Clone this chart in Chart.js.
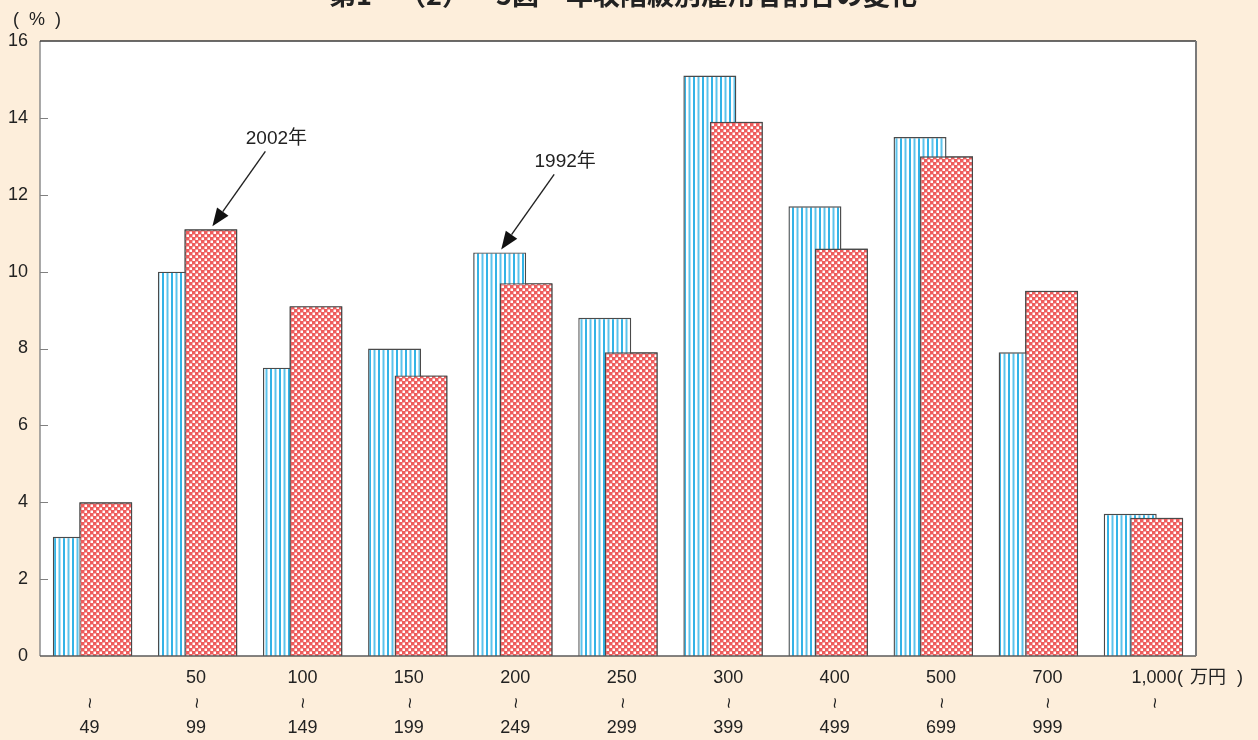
<!DOCTYPE html>
<html lang="ja">
<head>
<meta charset="utf-8">
<title>年収階級別雇用者割合の変化</title>
<script src="https://cdn.jsdelivr.net/npm/chart.js@4/dist/chart.umd.min.js"></script>
<style>
  html, body { margin: 0; padding: 0; background: #FDEEDB; }
  #wrap { width: 1258px; height: 740px; position: relative; }
</style>
</head>
<body>
<div id="wrap"><canvas id="chart" width="1258" height="740"></canvas></div>
<script>
// Income brackets (万円): lower and upper bound of each class
const lowerBounds = ['', '50', '100', '150', '200', '250', '300', '400', '500', '700', '1,000'];
const upperBounds = ['49', '99', '149', '199', '249', '299', '399', '499', '699', '999', ''];

// Share of employees in each bracket (%)
const share1992 = [3.1, 10.0, 7.5, 8.0, 10.5, 8.8, 15.1, 11.7, 13.5, 7.9, 3.7];
const share2002 = [4.0, 11.1, 9.1, 7.3, 9.7, 7.9, 13.9, 10.6, 13.0, 9.5, 3.6];

// Value axis
const yMin = 0;
const yMax = 16;
const yStep = 2;

const seriesNames = ['1992年', '2002年'];
const titleText = '第1－（2）－5図　年収階級別雇用者割合の変化';

const categories = lowerBounds.map((lo, i) => lo + '～' + upperBounds[i]);

const FONT_LATIN = '"Liberation Sans", Arial, "Noto Sans CJK JP", sans-serif';
const FONT_CJK = '"Liberation Sans", "Noto Sans CJK JP", sans-serif';

// Vertical blue hatching for 1992
function stripePattern() {
  const c = document.createElement('canvas');
  c.width = 9; c.height = 4;
  const g = c.getContext('2d');
  g.fillStyle = '#ffffff';
  g.fillRect(0, 0, 9, 4);
  g.fillStyle = '#33B3E6';
  g.fillRect(0, 0, 2, 4);
  g.fillStyle = '#5CC3EC';
  g.fillRect(4.5, 0, 2, 4);
  return g.createPattern(c, 'repeat');
}

// Red checker for 2002
function checkerPattern() {
  const c = document.createElement('canvas');
  c.width = 6; c.height = 6;
  const g = c.getContext('2d');
  g.fillStyle = '#EE5C5C';
  g.fillRect(0, 0, 6, 6);
  g.fillStyle = '#ffffff';
  g.fillRect(0.5, 0.5, 2.5, 2.5);
  g.fillRect(3.5, 3.5, 2.5, 2.5);
  return g.createPattern(c, 'repeat');
}

// White plot area, frame and inner tick marks
const framePlugin = {
  id: 'frame',
  beforeDatasetsDraw(chart) {
    const { ctx, chartArea: a } = chart;
    ctx.save();
    ctx.fillStyle = '#ffffff';
    ctx.fillRect(a.left, a.top, a.right - a.left, a.bottom - a.top);
    ctx.restore();
  },
  afterDatasetsDraw(chart) {
    // 2002 bars overlap the 1992 bars
    chart.getDatasetMeta(1).controller.draw();

    const { ctx, chartArea: a, scales } = chart;
    ctx.save();
    ctx.lineWidth = 1.5;
    ctx.strokeStyle = '#8c8c8c';
    ctx.beginPath();
    ctx.moveTo(a.left, a.top); ctx.lineTo(a.left, a.bottom);
    ctx.stroke();
    ctx.strokeStyle = '#3a3a3a';
    ctx.beginPath();
    ctx.moveTo(a.left, a.top); ctx.lineTo(a.right, a.top);
    ctx.stroke();
    ctx.strokeStyle = '#5a5a5a';
    ctx.beginPath();
    ctx.moveTo(a.left, a.bottom); ctx.lineTo(a.right, a.bottom);
    ctx.stroke();
    ctx.lineWidth = 2;
    ctx.strokeStyle = '#7a7a7a';
    ctx.beginPath();
    ctx.moveTo(a.right, a.top); ctx.lineTo(a.right, a.bottom);
    ctx.stroke();

    ctx.lineWidth = 1;
    ctx.strokeStyle = '#808080';
    scales.y.ticks.forEach(t => {
      if (t.value === yMin || t.value === yMax) return;
      const y = Math.round(scales.y.getPixelForValue(t.value)) + 0.5;
      ctx.beginPath();
      ctx.moveTo(a.left, y); ctx.lineTo(a.left + 8, y);
      ctx.stroke();
    });
    ctx.restore();
  }
};

// Title, unit labels, bracket labels and callouts
const textPlugin = {
  id: 'texts',
  afterDraw(chart) {
    const { ctx, chartArea: a, scales } = chart;
    ctx.save();
    ctx.fillStyle = '#222222';

    ctx.font = 'bold 27px "Noto Sans CJK JP", sans-serif';
    ctx.textAlign = 'center';
    ctx.textBaseline = 'alphabetic';
    ctx.fillText(titleText, 623, 5);

    // "( % )" unit above the value axis
    ctx.font = '18px ' + FONT_CJK;
    ctx.textBaseline = 'middle';
    ctx.textAlign = 'center';
    ctx.fillText('(', 16, 20);
    ctx.fillText('%', 37, 20);
    ctx.fillText(')', 58, 20);

    const x = scales.x;
    const spread = 1.35;
    categories.forEach((_, i) => {
      const cx = x.getPixelForTick(i) + i * spread - 3;
      ctx.font = '18px ' + FONT_LATIN;
      ctx.textAlign = 'center';
      if (lowerBounds[i]) ctx.fillText(lowerBounds[i], cx, 678);
      // range mark: a tilde turned upright
      ctx.save();
      ctx.translate(cx, 703);
      ctx.rotate(Math.PI / 2);
      ctx.font = '19px ' + FONT_LATIN;
      ctx.fillText('~', 0, 0);
      ctx.restore();
      ctx.font = '18px ' + FONT_LATIN;
      if (upperBounds[i]) ctx.fillText(upperBounds[i], cx, 728);
    });

    // "( 万円 )" unit after the last bracket
    ctx.font = '18px ' + FONT_CJK;
    ctx.textAlign = 'left';
    ctx.fillText('(', a.right - 19, 678);
    ctx.fillText('万円', a.right - 6, 678);
    ctx.fillText(')', a.right + 41, 678);

    // Callouts pointing at the top of a bar
    const callout = (datasetIndex, index, label) => {
      const bar = chart.getDatasetMeta(datasetIndex).data[index];
      const tipX = bar.x + 1.5;
      const tipY = bar.y - 3;
      const tailX = tipX + 53;
      const tailY = tipY - 75;
      const ang = Math.atan2(tipY - tailY, tipX - tailX);
      const headLen = 18, headHalf = 7;
      const bx = tipX - headLen * Math.cos(ang);
      const by = tipY - headLen * Math.sin(ang);
      ctx.strokeStyle = '#222222';
      ctx.lineWidth = 1.4;
      ctx.beginPath();
      ctx.moveTo(tailX, tailY); ctx.lineTo(bx, by);
      ctx.stroke();
      ctx.fillStyle = '#111111';
      ctx.beginPath();
      ctx.moveTo(tipX, tipY);
      ctx.lineTo(bx + headHalf * Math.sin(ang), by - headHalf * Math.cos(ang));
      ctx.lineTo(bx - headHalf * Math.sin(ang), by + headHalf * Math.cos(ang));
      ctx.closePath();
      ctx.fill();
      ctx.fillStyle = '#222222';
      ctx.font = '19px ' + FONT_CJK;
      ctx.textAlign = 'center';
      ctx.textBaseline = 'middle';
      ctx.fillText(label, tipX + 64, tipY - 88);
    };
    callout(1, 1, seriesNames[1]);
    callout(0, 4, seriesNames[0]);
    ctx.restore();
  }
};

new Chart(document.getElementById('chart'), {
  type: 'bar',
  data: {
    labels: categories,
    datasets: [
      {
        label: seriesNames[0],
        data: share1992,
        backgroundColor: stripePattern(),
        borderColor: '#4a4a4a',
        borderWidth: 1.4,
        categoryPercentage: 0.504,
        barPercentage: 2.0
      },
      {
        label: seriesNames[1],
        data: share2002,
        backgroundColor: checkerPattern(),
        borderColor: '#4a4a4a',
        borderWidth: 1.4,
        categoryPercentage: 0.504,
        barPercentage: 2.0
      }
    ]
  },
  options: {
    responsive: false,
    animation: false,
    layout: { padding: { top: 41, right: 62, left: 0, bottom: 0 } },
    plugins: {
      legend: { display: false },
      tooltip: { enabled: false },
      title: { display: false }
    },
    scales: {
      x: {
        grid: { display: false, drawTicks: false },
        border: { display: false },
        ticks: { display: false },
        afterFit(s) { s.height = 84; }
      },
      y: {
        min: yMin,
        max: yMax,
        grid: { display: false, drawTicks: false },
        border: { display: false },
        ticks: {
          stepSize: yStep,
          padding: 12,
          color: '#222222',
          font: { family: FONT_LATIN, size: 18 }
        },
        afterFit(s) { s.width = 40; }
      }
    }
  },
  plugins: [framePlugin, textPlugin]
});
</script>
</body>
</html>
